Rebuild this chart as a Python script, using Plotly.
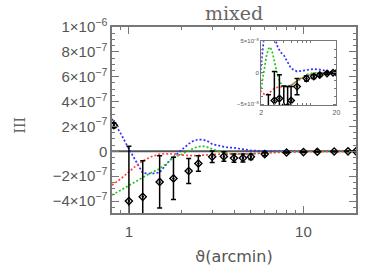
import numpy as np
import plotly.graph_objects as go

# ---------------- data (values in units of 1e-8) ----------------
curve_theta = [0.8, 0.9, 1.0, 1.1, 1.2, 1.35, 1.5, 1.65, 1.8, 2.0, 2.2, 2.35, 2.5, 2.65,
               2.8, 3.0, 3.3, 3.6, 4.0, 4.5, 5.0, 6.0, 7.0, 8.0, 10.0, 12.0, 15.0, 20.0]
blue_vals = [26, 14, 2, -8.8, -17.5, -18, -17, -10, -4.4, 1.0, 6.0, 8.5, 9.5, 9.3,
             8.5, 5.8, 4.2, 3.3, 2.8, 1.6, 0.7, 0.2, 0.3, 0.45, 0.6, 0.5, 0.3, 0.0]
green_vals = [-35.2, -31, -27.6, -24, -20.8, -17, -14, -9.5, -4.5, -2.5, 0.5, 2.6, 3.8, 4.1,
              3.4, 1.8, -0.3, -1.6, -2.2, -2.2, -2.0, -1.3, -0.7, -0.3, 0.0, 0.0, 0.0, 0.0]
red_vals = [-27.2, -22, -16.5, -11.5, -7.8, -4.2, -2.2, -1.8, -1.9, -3.0, -3.4, -3.5, -3.3, -3.0,
            -2.8, -2.5, -2.3, -2.2, -2.2, -2.1, -2.0, -1.3, -0.8, -0.5, -0.2, 0.0, 0.0, 0.0]

data_theta = [0.82, 1.0, 1.2, 1.5, 1.8, 2.2, 2.5, 3.0, 3.5, 4.0, 4.5, 5.0, 6.0, 8.0,
              10.0, 12.0, 15.0, 18.0, 20.0]
data_vals = [21, -40, -36.6, -24.6, -21.8, -15.8, -9.8, -4.4, -4.1, -5.4, -5.4, -4.4, -2.2,
             -0.9, -0.6, -0.35, -0.1, 0.0, 0.0]
data_err = [2, 44, 29, 21, 17, 10, 6.3, 4.6, 3.8, 3.3, 3.2, 2.2, 1.3, 0.4, 0.3, 0.2, 0.15,
            0.1, 0.1]
UNIT = 1e-8

main_ytickvals = [-4e-7, -2e-7, 0, 2e-7, 4e-7, 6e-7, 8e-7, 1e-6]
main_yticktext = ["−4×10<sup>−7</sup>", "−2×10<sup>−7</sup>", "0", "2×10<sup>−7</sup>",
                  "4×10<sup>−7</sup>", "6×10<sup>−7</sup>", "8×10<sup>−7</sup>", "1×10<sup>−6</sup>"]
main_xtickvals = [1, 10]
main_xticktext = ["1", "10"]
inset_ytickvals = [-5e-8, 0, 5e-8]
inset_yticktext = ["−5×10<sup>−8</sup>", "0", "5×10<sup>−8</sup>"]
inset_xtickvals = [2, 20]
inset_xticktext = ["2", "20"]

def sc(v):
    return [x * UNIT for x in v]

fig = go.Figure()
curves = [(blue_vals, "#2f2fff"), (green_vals, "#1ec81e"), (red_vals, "#ff4545")]
for xa, ya, msize in [("x", "y", 5.5), ("x2", "y2", 5)]:
    for vals, col in curves:
        fig.add_trace(go.Scatter(x=curve_theta, y=sc(vals), mode="lines",
                                 line=dict(color=col, width=1.7, dash="2px,2px"),
                                 xaxis=xa, yaxis=ya, showlegend=False))
    fig.add_trace(go.Scatter(x=data_theta, y=sc(data_vals), mode="markers",
                             marker=dict(symbol="diamond-open-dot", size=msize, color="black",
                                         line=dict(width=1.4, color="black")),
                             error_y=dict(type="data", array=sc(data_err), color="black",
                                          thickness=1.5, width=2.5),
                             xaxis=xa, yaxis=ya, showlegend=False))

axcol = "#777777"
txtcol = "#555555"
fig.update_layout(
    width=374, height=267,
    margin=dict(l=112, r=18, t=27, b=54, autoexpand=False),
    paper_bgcolor="white", plot_bgcolor="white",
    font=dict(family="Liberation Sans, Arial, sans-serif", color=txtcol, size=15),
    xaxis=dict(type="log", range=[np.log10(0.8), np.log10(20)], domain=[0, 1],
               tickmode="array", tickvals=main_xtickvals, ticktext=main_xticktext,
               ticks="inside", ticklen=7, tickcolor=axcol, tickwidth=1,
               showline=True, linecolor=axcol, linewidth=1.5, mirror="allticks",
               showgrid=False, zeroline=False, automargin=False,
               minor=dict(tickmode="array", tickvals=[0.9, 2, 3, 4, 5, 6, 7, 8, 9, 20],
                          ticks="inside", ticklen=3, tickcolor=axcol, showgrid=False),
               title=dict(text="ϑ(arcmin)", standoff=12,
                          font=dict(family="DejaVu Sans", size=16, color=txtcol)),
               tickfont=dict(size=15, color=txtcol), ticklabelstandoff=4),
    yaxis=dict(range=[-4.96e-7, 1.0e-6], domain=[0, 1],
               tickmode="array", tickvals=main_ytickvals, ticktext=main_yticktext,
               ticks="inside", ticklen=7, tickcolor=axcol,
               showline=True, linecolor=axcol, linewidth=1.5, mirror="allticks",
               showgrid=False, zeroline=False, automargin=False,
               minor=dict(dtick=5e-8, ticks="inside", ticklen=3, tickcolor=axcol, showgrid=False),
               tickfont=dict(size=15, color=txtcol)),
    xaxis2=dict(type="log", range=[np.log10(2), np.log10(20)], domain=[0.611, 0.920],
                anchor="y2", tickmode="array", tickvals=inset_xtickvals, ticktext=inset_xticktext,
                ticks="inside", ticklen=3, tickcolor=axcol,
                showline=True, linecolor=axcol, linewidth=1.2, mirror="allticks",
                showgrid=False, zeroline=False,
                minor=dict(tickmode="array", tickvals=[3, 4, 5, 6, 7, 8, 9],
                           ticks="inside", ticklen=2, tickcolor=axcol, showgrid=False),
                tickfont=dict(size=7, color=txtcol)),
    yaxis2=dict(range=[-5.2e-8, 5e-8], domain=[0.578, 0.923], anchor="x2",
                tickmode="array", tickvals=inset_ytickvals, ticktext=inset_yticktext,
                ticks="inside", ticklen=3, tickcolor=axcol,
                showline=True, linecolor=axcol, linewidth=1.2, mirror="allticks",
                showgrid=False, zeroline=False,
                minor=dict(dtick=1.25e-8, ticks="inside", ticklen=2, tickcolor=axcol, showgrid=False),
                tickfont=dict(size=6, color=txtcol)),
    shapes=[
        dict(type="line", xref="x domain", yref="y", x0=0, x1=1, y0=0, y1=0,
             line=dict(color="#555555", width=2), layer="below"),
        dict(type="line", xref="x2 domain", yref="y2", x0=0, x1=1, y0=0, y1=0,
             line=dict(color="black", width=2), layer="below"),
    ],
    annotations=[
        dict(text="mixed", xref="paper", yref="paper", x=0.5, y=1, yshift=14,
             xanchor="center", yanchor="middle", showarrow=False,
             font=dict(family="DejaVu Serif", size=19, color="#666666")),
        dict(text="III", xref="paper", yref="paper", x=0, xshift=-92, y=0.47,
             xanchor="center", yanchor="middle", showarrow=False, textangle=-90,
             font=dict(family="DejaVu Serif", size=14, color="#666666")),
    ],
)

fig.write_html("out.html", config={"displayModeBar": False},
               post_script="document.body.style.margin='0';document.body.style.padding='0';")
